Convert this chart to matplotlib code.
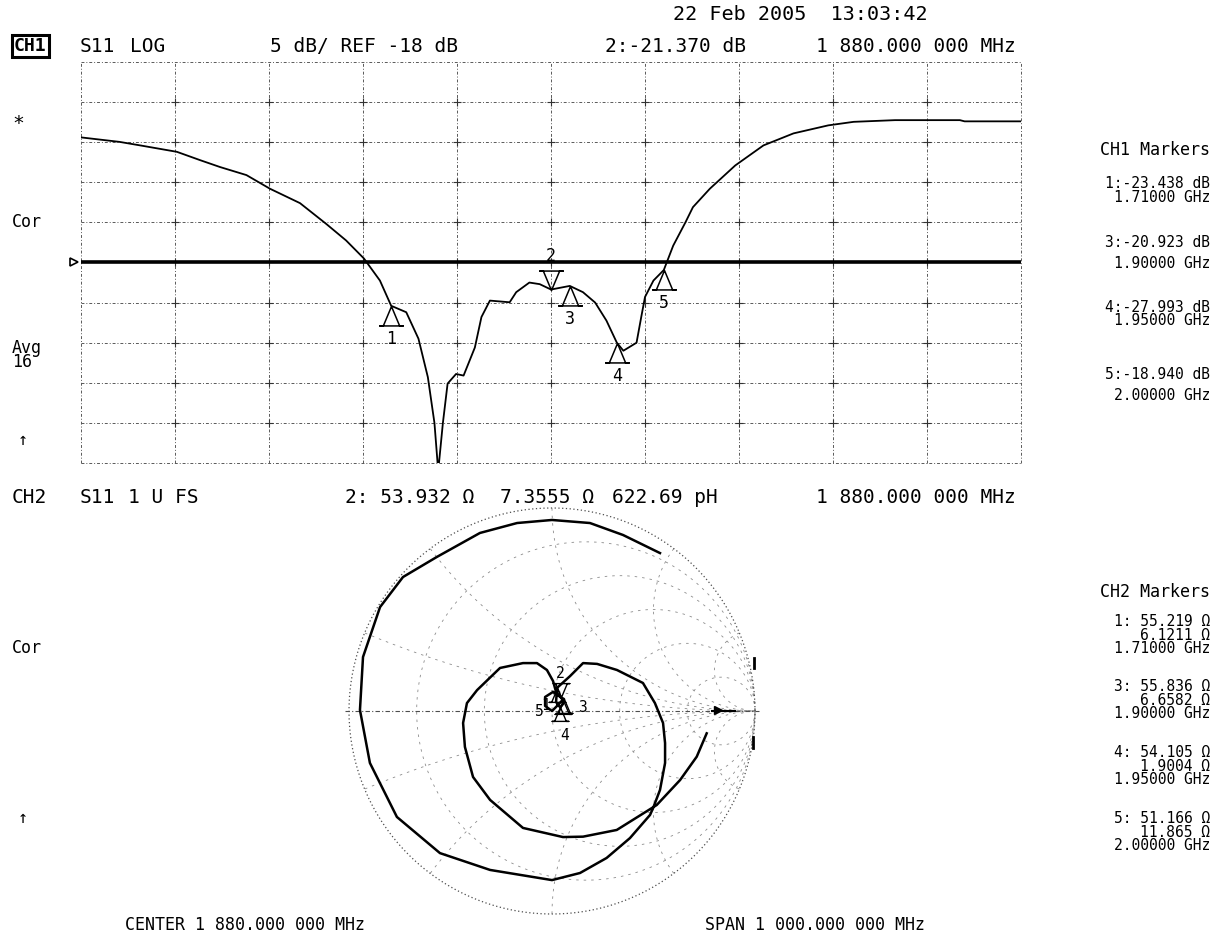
import numpy as np
import matplotlib
matplotlib.use("Agg")
import matplotlib.pyplot as plt
from matplotlib.path import Path
from matplotlib.transforms import blended_transform_factory

# ---------------- data ----------------
center_mhz = 1880.0
span_mhz = 1000.0
ref_db = -18.0
db_per_div = 5.0

freq_mhz = [1380, 1421, 1443, 1482, 1507, 1528, 1556, 1581, 1613, 1641, 1662, 1681,
            1698, 1710, 1726, 1739, 1749, 1756, 1760, 1765, 1770, 1779, 1787, 1799,
            1806, 1815, 1836, 1843, 1857, 1868, 1880, 1900, 1914, 1927, 1939, 1950,
            1957, 1971, 1976, 1980, 1989, 2000, 2010, 2023, 2031, 2049, 2076, 2106,
            2138, 2175, 2202, 2246, 2315, 2320, 2380]
s11_db = [-2.4, -2.96, -3.4, -4.2, -5.25, -6.1, -7.1, -8.8, -10.6, -13.2, -15.25, -17.5,
          -20.25, -23.4, -24.2, -27.5, -32.3, -38.0, -44.0, -38.0, -33.1, -31.9, -32.1, -28.6,
          -24.8, -22.75, -22.96, -21.7, -20.5, -20.7, -21.37, -20.92, -21.7, -23.0, -25.25, -27.99,
          -29.0, -28.0, -24.8, -22.3, -20.25, -18.94, -15.9, -13.0, -11.1, -8.8, -5.9, -3.4,
          -1.9, -0.9, -0.46, -0.25, -0.25, -0.4, -0.4]

marker_ids = [1, 2, 3, 4, 5]
marker_freq = [1710, 1880, 1900, 1950, 2000]
marker_db = [-23.438, -21.370, -20.923, -27.993, -18.940]
marker_r = [55.219, 53.932, 55.836, 54.105, 51.166]
marker_x = [6.1211, 7.3555, 6.6582, 1.9004, 11.865]
active_marker = 2
z0 = 50.0

smith_re = [0.762, 0.713, 0.631, 0.516, 0.319, 0.153, 0.054, -0.143, -0.305, -0.389,
            -0.429, -0.438, -0.419, -0.369, -0.256, -0.143, -0.074, -0.025, 0.005, 0.020,
            0.053, 0.020, 0.0, -0.034, -0.034, 0.005, 0.043, 0.059, 0.054, 0.040,
            0.020, 0.025, 0.089, 0.153, 0.222, 0.320, 0.448, 0.507, 0.547, 0.557,
            0.557, 0.532, 0.498, 0.483, 0.384, 0.269, 0.138, 0.0, -0.305, -0.552,
            -0.764, -0.897, -0.946, -0.931, -0.847, -0.734, -0.567, -0.355, -0.172, 0.0,
            0.187, 0.350, 0.532]
smith_im = [-0.110, -0.225, -0.340, -0.463, -0.586, -0.619, -0.621, -0.576, -0.438, -0.325,
            -0.177, -0.059, 0.039, 0.103, 0.212, 0.236, 0.236, 0.202, 0.148, 0.094,
            0.055, 0.020, 0.0, 0.025, 0.069, 0.094, 0.068, 0.059, 0.034, 0.018,
            0.044, 0.114, 0.172, 0.236, 0.232, 0.202, 0.138, 0.039, -0.059, -0.158,
            -0.256, -0.389, -0.478, -0.512, -0.626, -0.724, -0.798, -0.833, -0.783, -0.700,
            -0.522, -0.256, 0.005, 0.266, 0.512, 0.660, 0.759, 0.877, 0.926, 0.941,
            0.926, 0.867, 0.778]

smith_r_circles = [0.2, 0.5, 1.0, 2.0, 5.0]
smith_x_arcs = [0.2, 0.5, 1.0, 2.0, 5.0]

ch1_marker_blocks = ["1:-23.438 dB\n1.71000 GHz", "3:-20.923 dB\n1.90000 GHz",
                     "4:-27.993 dB\n1.95000 GHz", "5:-18.940 dB\n2.00000 GHz"]
ch2_marker_blocks = ["1: 55.219 \u03a9\n6.1211 \u03a9\n1.71000 GHz",
                     "3: 55.836 \u03a9\n6.6582 \u03a9\n1.90000 GHz",
                     "4: 54.105 \u03a9\n1.9004 \u03a9\n1.95000 GHz",
                     "5: 51.166 \u03a9\n11.865 \u03a9\n2.00000 GHz"]

# ---------------- figure ----------------
W, H = 1216, 938
fig = plt.figure(figsize=(W / 100, H / 100), dpi=100)
MONO = ["DejaVu Sans Mono", "DejaVu Sans"]


def fx(x):
    return x / W


def fy(y):
    return 1 - y / H


def T(x, y, s, size=11.5, ha="left", **kw):
    return fig.text(fx(x), fy(y), s, fontsize=size, ha=ha, va="center",
                    family=MONO, **kw)


# header texts
T(800, 15, "22 Feb 2005  13:03:42", size=14.5, ha="center")
T(14, 46, "CH1", size=13, weight="bold",
  bbox=dict(boxstyle="square,pad=0.12", fc="white", ec="black", lw=2.2))
T(80, 46, "S11", size=14)
T(130, 46, "LOG", size=14)
T(270, 46, "5 dB/ REF -18 dB", size=14)
T(746, 46, "2:-21.370 dB", size=14, ha="right")
T(1016, 46, "1 880.000 000 MHz", size=14, ha="right")

T(12, 497, "CH2", size=14)
T(80, 497, "S11", size=14)
T(128, 497, "1 U FS", size=14)
T(345, 497, "2: 53.932 \u03a9", size=14)
T(500, 497, "7.3555 \u03a9", size=14)
T(612, 497, "622.69 pH", size=14)
T(1016, 497, "1 880.000 000 MHz", size=14, ha="right")

# left side annotations
T(12, 123, "*", size=14)
T(12, 222, "Cor", size=12)
T(12, 355, "Avg\n16", size=12, linespacing=0.75)
T(18, 440, "\u2191", size=12)
T(12, 648, "Cor", size=12)
T(18, 818, "\u2191", size=12)

# right marker listings
T(1210, 150, "CH1 Markers", size=12, ha="right")
ch1_block_y = [190.5, 253, 314, 385]
ch1_block_ls = [0.88, 1.45, 0.88, 1.45]
for yy, ls, s in zip(ch1_block_y, ch1_block_ls, ch1_marker_blocks):
    T(1210, yy, s, size=10.5, ha="right", multialignment="right", linespacing=ls)
T(1210, 592, "CH2 Markers", size=12, ha="right")
ch2_block_y = [635, 700, 766, 832]
for yy, s in zip(ch2_block_y, ch2_marker_blocks):
    T(1210, yy, s, size=10.5, ha="right", multialignment="right", linespacing=0.88)

# bottom texts
T(125, 925, "CENTER 1 880.000 000 MHz", size=12)
T(705, 925, "SPAN 1 000.000 000 MHz", size=12)

# ---------------- marker shapes ----------------
up_tri = Path([(0, 0), (-0.42, -1), (-0.6, -1), (0.6, -1), (0.42, -1), (0, 0)],
              [Path.MOVETO, Path.LINETO, Path.LINETO, Path.LINETO, Path.LINETO, Path.LINETO])
down_tri = Path([(0, 0), (-0.42, 1), (-0.6, 1), (0.6, 1), (0.42, 1), (0, 0)],
                [Path.MOVETO, Path.LINETO, Path.LINETO, Path.LINETO, Path.LINETO, Path.LINETO])

# ---------------- CH1 log-mag plot ----------------
f_start = center_mhz - span_mhz / 2
f_stop = center_mhz + span_mhz / 2
y_top = ref_db + 5 * db_per_div
y_bot = ref_db - 5 * db_per_div

ax1 = fig.add_axes([fx(81), fy(463), (1021 - 81) / W, (463 - 62) / H])
ax1.set_xlim(f_start, f_stop)
ax1.set_ylim(y_bot, y_top)
ax1.axis("off")

grid_kw = dict(ls=(0, (3, 2, 1, 2)), lw=0.7, color="0.35", clip_on=False, zorder=1)
xs = np.linspace(f_start, f_stop, 11)
ys = np.linspace(y_bot, y_top, 11)
for xv in xs:
    ax1.axvline(xv, **grid_kw)
for yv in ys:
    ax1.axhline(yv, **grid_kw)
gx, gy = np.meshgrid(xs[1:-1], ys[1:-1])
ax1.plot(gx.ravel(), gy.ravel(), ls="none", marker="+", ms=6, mew=0.8, color="0.2", zorder=1)

ax1.axhline(ref_db, color="black", lw=2.6, zorder=2)
ax1.plot([-0.007], [ref_db], marker=">", ms=6, mfc="white", mec="black", mew=1.2,
         transform=blended_transform_factory(ax1.transAxes, ax1.transData),
         clip_on=False, zorder=3)

ax1.plot(freq_mhz, s11_db, color="black", lw=1.3, zorder=3)

for mid, mf, md in zip(marker_ids, marker_freq, marker_db):
    if mid == active_marker:
        ax1.plot(mf, md, marker=down_tri, ms=28, mfc="none", mec="black", mew=1.1, zorder=4)
        ax1.annotate(str(mid), (mf, md), xytext=(0, 24), textcoords="offset points",
                     ha="center", va="center", fontsize=12, family=MONO)
    else:
        ax1.plot(mf, md, marker=up_tri, ms=28, mfc="none", mec="black", mew=1.1, zorder=4)
        ax1.annotate(str(mid), (mf, md), xytext=(0, -24), textcoords="offset points",
                     ha="center", va="center", fontsize=12, family=MONO)

# ---------------- CH2 Smith chart ----------------
cx, cy, R = 552, 711, 203
half = 213
ax2 = fig.add_axes([fx(cx - half), fy(cy + half), 2 * half / W, 2 * half / H])
lim = half / R
ax2.set_xlim(-lim, lim)
ax2.set_ylim(-lim, lim)
ax2.axis("off")

sgrid = dict(ls=(0, (3, 6)), lw=0.6, color="0.55", zorder=1)
th = np.linspace(0, 2 * np.pi, 400)
for r in smith_r_circles:
    c = r / (1 + r)
    rad = 1 / (1 + r)
    ax2.plot(c + rad * np.cos(th), rad * np.sin(th), **sgrid)
rr = np.logspace(-3, 3, 600)
for xv in smith_x_arcs:
    for sgn in (1, -1):
        z = rr + 1j * sgn * xv
        g = (z - 1) / (z + 1)
        ax2.plot(g.real, g.imag, **sgrid)
ax2.plot(np.cos(th), np.sin(th), ls=(0, (1, 2)), lw=0.9, color="0.3", zorder=1)
ax2.plot([-1.02, 1.02], [0, 0], ls=(0, (4, 2, 1, 2)), lw=0.8, color="0.3", zorder=1)
ax2.plot([0.79, 0.9], [0.0, 0.0], color="black", lw=1.5, zorder=2)
ax2.plot([0.82], [0.005], marker=">", ms=6, color="black", zorder=2)
ax2.plot([0.995, 0.995], [0.26, 0.21], color="black", lw=2, zorder=2)
ax2.plot([0.99, 0.99], [-0.13, -0.18], color="black", lw=2, zorder=2)

ax2.plot(smith_re, smith_im, color="black", lw=1.8, zorder=3)

smith_label_offsets = {1: (-12, -4), 2: (0, 17), 3: (13, -6), 4: (3, -20), 5: (-13, -17)}
zm = (np.array(marker_r) + 1j * np.array(marker_x)) / z0
gm = (zm - 1) / (zm + 1)
for mid, g in zip(marker_ids, gm):
    shape = down_tri if mid == active_marker else up_tri
    ax2.plot(g.real, g.imag, marker=shape, ms=20, mfc="none", mec="black", mew=1.0, zorder=4)
    ax2.annotate(str(mid), (g.real, g.imag), xytext=smith_label_offsets[mid],
                 textcoords="offset points", ha="center", va="center",
                 fontsize=10.5, family=MONO)

fig.savefig("out.png", dpi=100)
